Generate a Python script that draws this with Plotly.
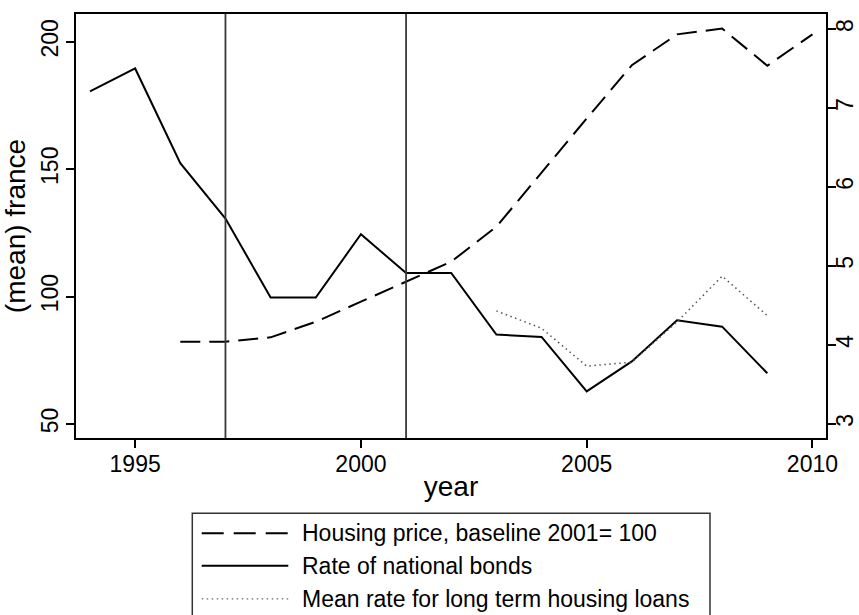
import plotly.graph_objects as go

# ---- data ----
housing_years = list(range(1996, 2011))
housing_price = [82.3, 82.3, 84.0, 90.1, 98.0, 105.8, 113.7, 127.4, 148.7, 169.9,
                 190.8, 202.9, 205.2, 190.6, 202.9]
bond_years = list(range(1994, 2010))
bond_rate = [7.21, 7.50, 6.30, 5.60, 4.60, 4.60, 5.40, 4.91, 4.91, 4.13, 4.10,
             3.41, 3.79, 4.31, 4.23, 3.64]
loan_years = list(range(2003, 2010))
loan_rate = [4.43, 4.21, 3.73, 3.78, 4.29, 4.87, 4.37]
vlines = [1997, 2001]
legend_labels = ["Housing price, baseline 2001= 100",
                 "Rate of national bonds",
                 "Mean rate for long term housing loans"]

FONT = "Liberation Sans, Arial, sans-serif"
W, H = 859, 615
L, R, T, B = 76, 826, 14, 438
FS = 23

def px(x):
    return (x - L) / (R - L)

def py(y):
    return (B - y) / (B - T)

fig = go.Figure()
fig.add_trace(go.Scatter(x=housing_years, y=housing_price, mode="lines",
                         line=dict(color="black", width=2, dash="20px,9px"),
                         name=legend_labels[0], yaxis="y"))
fig.add_trace(go.Scatter(x=bond_years, y=bond_rate, mode="lines",
                         line=dict(color="black", width=2),
                         name=legend_labels[1], yaxis="y2"))
fig.add_trace(go.Scatter(x=loan_years, y=loan_rate, mode="lines",
                         line=dict(color="#555555", width=1.5, dash="1.5px,3.5px"),
                         name=legend_labels[2], yaxis="y2"))

for v in vlines:
    fig.add_vline(x=v, line=dict(color="#3a3a3a", width=1.8))

# manual legend
shapes = [dict(type="rect", xref="paper", yref="paper",
               x0=px(192.3), x1=px(710), y0=py(513.3), y1=py(640),
               line=dict(color="#333333", width=1.5), fillcolor="rgba(0,0,0,0)")]
row_y = [533.3, 565.8, 598.8]
styles = [dict(color="black", width=2, dash="22px,10px"),
          dict(color="black", width=2),
          dict(color="#666666", width=1.2, dash="1.5px,3.5px")]
annotations = []
for lab, yy, st in zip(legend_labels, row_y, styles):
    shapes.append(dict(type="line", xref="paper", yref="paper",
                       x0=px(201.7), x1=px(288.3), y0=py(yy), y1=py(yy), line=st))
    annotations.append(dict(text=lab, xref="paper", yref="paper", x=px(300),
                            y=py(yy), xanchor="left", yanchor="middle",
                            showarrow=False, font=dict(size=FS, color="black", family=FONT)))

axis_common = dict(ticks="outside", ticklen=8, tickwidth=1.5, tickcolor="black",
                   showline=True, linecolor="black", linewidth=1.6,
                   showgrid=False, zeroline=False, automargin=False,
                   tickfont=dict(size=FS, family=FONT, color="black"))

fig.update_layout(
    width=W, height=H,
    margin=dict(l=L, r=W - R, t=T, b=H - B, autoexpand=False),
    paper_bgcolor="white", plot_bgcolor="white",
    showlegend=False,
    font=dict(family=FONT, size=FS, color="black"),
    shapes=fig.layout.shapes + tuple(shapes),
    annotations=annotations,
    xaxis=dict(range=[1993.69, 2010.30], tick0=1995, dtick=5, mirror=True,
               ticklabelstandoff=-3,
               title=dict(text="year", standoff=0), **axis_common),
    yaxis=dict(range=[44.5, 210.9], tick0=50, dtick=50, tickangle=-90,
               ticklabelstandoff=-1,
               title=dict(text="(mean) france", standoff=6), **axis_common),
    yaxis2=dict(range=[2.82, 8.19], tick0=3, dtick=1, tickangle=-90,
                overlaying="y", side="right", ticklabelstandoff=-10, **axis_common),
)

fig.write_html("out.html")
